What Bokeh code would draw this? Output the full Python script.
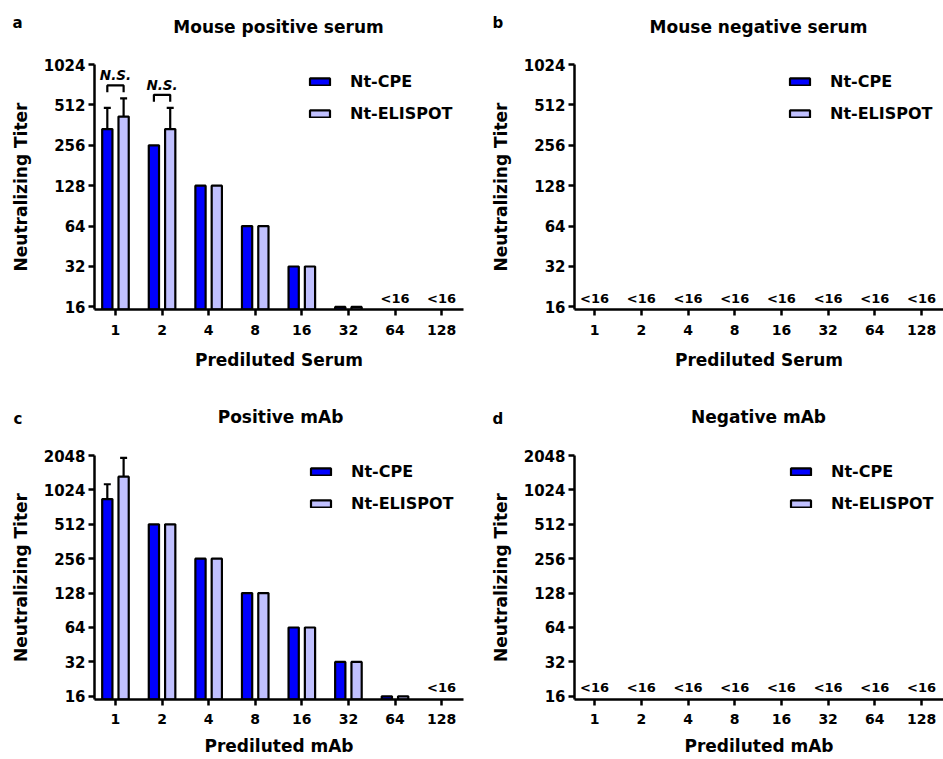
import math
from bokeh.plotting import figure
from bokeh.layouts import column, row
from bokeh.models import (Range1d, FixedTicker, ColumnDataSource, Legend, LegendItem,
                          Whisker, TeeHead)
from bokeh.core.properties import value
from bokeh.embed import file_html
from bokeh.resources import INLINE

NAN = float("nan")

# ---------------- data ----------------
categories = ["1", "2", "4", "8", "16", "32", "64", "128"]
series_names = ["Nt-CPE", "Nt-ELISPOT"]

# panel a: mouse positive serum
a_cpe = [338, 256, 128, 64, 32, 16, NAN, NAN]
a_elispot = [419, 338, 128, 64, 32, 16, NAN, NAN]
a_cpe_upper = [487, NAN, NAN, NAN, NAN, NAN, NAN, NAN]
a_elispot_upper = [572, 487, NAN, NAN, NAN, NAN, NAN, NAN]
a_ns_groups = [0, 1]

# panel b: mouse negative serum (all below detection)
b_cpe = [NAN] * 8
b_elispot = [NAN] * 8

# panel c: positive mAb
c_cpe = [851, 512, 256, 128, 64, 32, 16, NAN]
c_elispot = [1337, 512, 256, 128, 64, 32, 16, NAN]
c_cpe_upper = [1147, NAN, NAN, NAN, NAN, NAN, NAN, NAN]
c_elispot_upper = [1955, NAN, NAN, NAN, NAN, NAN, NAN, NAN]
c_ns_groups = [0]

# panel d: negative mAb
d_cpe = [NAN] * 8
d_elispot = [NAN] * 8

ticks_1024 = [16, 32, 64, 128, 256, 512, 1024]
ticks_2048 = [16, 32, 64, 128, 256, 512, 1024, 2048]

# ---------------- style ----------------
FONT = "DejaVu Sans"
BLUE = "#0000ff"
LAV = "#c0c0ff"
OFF = 0.175
BW = 0.22


def make_header(letter, title, width, height, letter_xy, title_xy):
    h = figure(width=width, height=height, output_backend="svg", toolbar_location=None,
               x_range=Range1d(0, width), y_range=Range1d(height, 0),
               x_axis_location=None, y_axis_location=None,
               min_border_left=0, min_border_right=0, min_border_top=0, min_border_bottom=0)
    h.frame_align = False
    h.outline_line_color = None
    h.grid.visible = False
    h.text([letter_xy[0]], [letter_xy[1]], text=[letter], text_align="left",
           text_baseline="middle", text_font=value(FONT), text_font_style="bold",
           text_font_size="15px", text_color="black")
    h.text([title_xy[0]], [title_xy[1]], text=[title], text_align="center",
           text_baseline="middle", text_font=value(FONT), text_font_style="bold",
           text_font_size="17px", text_color="black")
    return h


def make_panel(xlabel, cpe, eli, cpe_up, eli_up, ns_groups, yticks, ystart,
               width, height, bl, br, bt, bb, xr, leg_margin, xl_standoff, xa_standoff):
    p = figure(width=width, height=height, output_backend="svg", toolbar_location=None,
               y_axis_type="log", x_range=Range1d(*xr),
               y_range=Range1d(ystart, yticks[-1]),
               min_border_left=bl, min_border_right=br, min_border_top=bt,
               min_border_bottom=bb)
    p.outline_line_color = None
    p.grid.visible = False

    xs = [i + 0.5 for i in range(len(categories))]
    src_c = ColumnDataSource(dict(x=[x - OFF for x in xs], top=cpe))
    src_e = ColumnDataSource(dict(x=[x + OFF for x in xs], top=eli))
    r1 = p.vbar(x="x", top="top", bottom=ystart, width=BW, source=src_c,
                fill_color=BLUE, line_color="black", line_width=2.2)
    r2 = p.vbar(x="x", top="top", bottom=ystart, width=BW, source=src_e,
                fill_color=LAV, line_color="black", line_width=2.2)

    # error bars (upper only)
    for xoff, vals, ups in ((-OFF, cpe, cpe_up), (OFF, eli, eli_up)):
        if ups is None:
            continue
        bx, lo, hi = [], [], []
        for i, (v, u) in enumerate(zip(vals, ups)):
            if not math.isnan(u):
                bx.append(xs[i] + xoff)
                lo.append(v)
                hi.append(u)
        if bx:
            wsrc = ColumnDataSource(dict(base=bx, lower=lo, upper=hi))
            p.add_layout(Whisker(base="base", lower="lower", upper="upper", source=wsrc,
                                 dimension="height", line_color="black", line_width=2.2,
                                 lower_head=None,
                                 upper_head=TeeHead(size=7, line_color="black", line_width=2.2)))

    # N.S. brackets
    for g in ns_groups:
        tops = [v for v in (cpe_up[g], eli_up[g]) if not math.isnan(v)]
        m = max(tops)
        yb = m * 1.25
        yl = m * 1.11
        x0, x1 = xs[g] - OFF, xs[g] + OFF
        p.line([x0, x0, x1, x1], [yl, yb, yb, yl], line_color="black", line_width=2.2)
        p.text([xs[g]], [yb], text=["N.S."], text_align="center", text_baseline="bottom",
               y_offset=-2, text_font=value(FONT), text_font_size="13.5px",
               text_font_style="bold italic", text_color="black")

    # "<16" labels for groups where both are below detection
    lx = [xs[i] for i in range(len(categories)) if math.isnan(cpe[i]) and math.isnan(eli[i])]
    if lx:
        p.text(lx, [16] * len(lx), text=["<16"] * len(lx), text_align="center",
               text_baseline="bottom", y_offset=-1, text_font=value(FONT),
               text_font_size="13px", text_font_style="bold", text_color="black")

    # axes
    p.xaxis.ticker = FixedTicker(ticks=xs)
    p.xaxis.major_label_overrides = {x: c for x, c in zip(xs, categories)}
    p.yaxis.ticker = FixedTicker(ticks=yticks)
    p.yaxis.major_label_overrides = {t: str(t) for t in yticks}
    for ax in (p.xaxis[0], p.yaxis[0]):
        ax.axis_line_width = 2.5
        ax.axis_line_color = "black"
        ax.major_tick_line_width = 2.5
        ax.major_tick_line_color = "black"
        ax.major_tick_out = 6
        ax.major_tick_in = 0
        ax.minor_tick_line_color = None
        ax.major_label_text_font = FONT
        ax.major_label_text_font_style = "bold"
        ax.major_label_text_color = "black"
        ax.axis_label_text_font = FONT
        ax.axis_label_text_font_style = "bold"
        ax.axis_label_text_font_size = "17px"
        ax.axis_label_text_color = "black"
    p.xaxis.major_label_text_font_size = "14px"
    p.yaxis.major_label_text_font_size = "15px"
    p.xaxis.axis_label = xlabel
    p.yaxis.axis_label = "Neutralizing Titer"
    p.xaxis.major_label_standoff = xl_standoff
    p.xaxis.axis_label_standoff = xa_standoff
    p.yaxis.major_label_standoff = 3
    p.yaxis.axis_label_standoff = 10

    # legend
    leg = Legend(items=[LegendItem(label=series_names[0], renderers=[r1]),
                        LegendItem(label=series_names[1], renderers=[r2])],
                 location="top_right", orientation="vertical",
                 border_line_color=None, background_fill_alpha=0,
                 padding=0, margin=leg_margin, spacing=13,
                 glyph_width=25, glyph_height=9, label_standoff=18, label_width=105,
                 label_text_font=FONT, label_text_font_style="bold",
                 label_text_font_size="16px", label_text_color="black")
    p.add_layout(leg, "center")
    return p


ha = make_header("a", "Mouse positive serum", 470, 44, (12, 22), (278, 26))
hb = make_header("b", "Mouse negative serum", 473, 44, (22, 22), (288, 26))
hc = make_header("c", "Positive mAb", 470, 50, (13, 38), (280, 36))
hd = make_header("d", "Negative mAb", 473, 50, (22, 38), (288, 36))

pa = make_panel("Prediluted Serum", a_cpe, a_elispot, a_cpe_upper, a_elispot_upper,
                a_ns_groups, ticks_1024, 15.3, 470, 336, 94, 7, 20, 71,
                (0.05, 7.97), 8, 9, 12)
pb = make_panel("Prediluted Serum", b_cpe, b_elispot, None, None, [],
                ticks_1024, 15.3, 473, 336, 104, 0, 20, 71,
                (0.07, 7.97), 8, 9, 12)
pc = make_panel("Prediluted mAb", c_cpe, c_elispot, c_cpe_upper, c_elispot_upper,
                c_ns_groups, ticks_2048, 15.0, 470, 329, 94, 7, 25, 60,
                (0.05, 7.97), 7, 8, 9)
pd_ = make_panel("Prediluted mAb", d_cpe, d_elispot, None, None, [],
                 ticks_2048, 15.0, 473, 329, 104, 0, 25, 60,
                 (0.07, 7.97), 7, 8, 9)

layout = column(row(column(ha, pa, spacing=0), column(hb, pb, spacing=0), spacing=0),
                row(column(hc, pc, spacing=0), column(hd, pd_, spacing=0), spacing=0),
                spacing=0)
open("out.html", "w").write(file_html(layout, INLINE))
